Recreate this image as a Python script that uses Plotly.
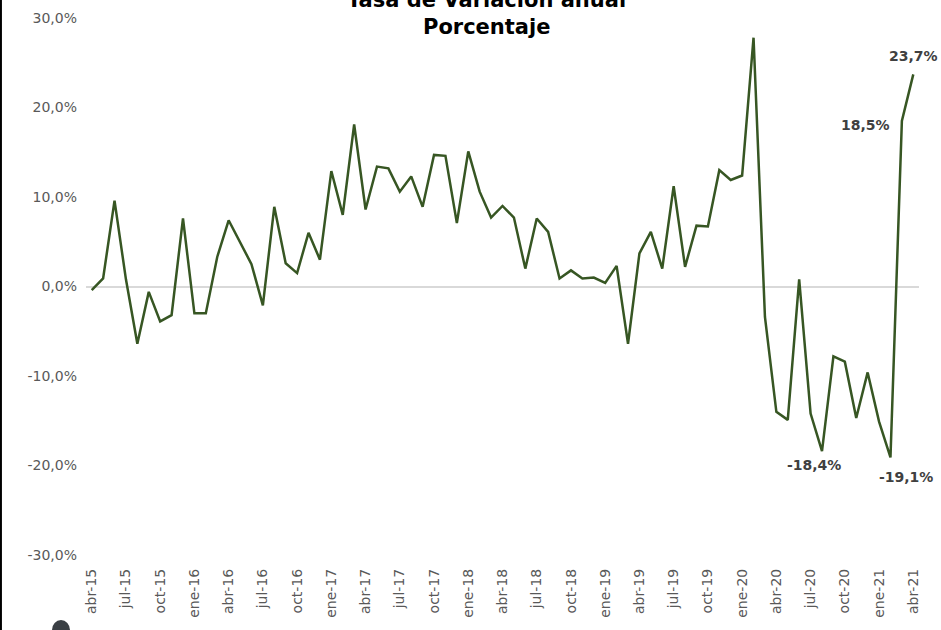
import plotly.graph_objects as go

months = ["ene", "feb", "mar", "abr", "may", "jun", "jul", "ago", "sep", "oct", "nov", "dic"]
# monthly categories abr-15 .. abr-21
categories = []
for yr in range(2015, 2022):
    for mi, m in enumerate(months):
        if (yr == 2015 and mi < 3) or (yr == 2021 and mi > 3):
            continue
        categories.append(f"{m}-{str(yr)[2:]}")

values = [
    -0.4, 0.9, 9.6, 0.8, -6.4, -0.6, -3.9, -3.2, 7.6, -3.0, -3.0, 3.3,
    7.4, 4.9, 2.5, -2.1, 8.9, 2.6, 1.5, 6.0, 3.0, 12.9, 8.0, 18.1,
    8.6, 13.4, 13.2, 10.6, 12.3, 8.9, 14.7, 14.6, 7.1, 15.1, 10.6, 7.7,
    9.0, 7.7, 2.0, 7.6, 6.1, 0.9, 1.8, 0.9, 1.0, 0.4, 2.3, -6.4,
    3.7, 6.1, 2.0, 11.2, 2.2, 6.8, 6.7, 13.0, 11.9, 12.4, 27.8, -3.4,
    -14.0, -14.9, 0.8, -14.2, -18.4, -7.8, -8.4, -14.7, -9.6, -15.1, -19.1, 18.5,
    23.7,
]

tick_labels = categories[::3]
tick_positions = list(range(0, len(categories), 3))

y_tick_values = [-30, -20, -10, 0, 10, 20, 30]
y_tick_labels = ["-30,0%", "-20,0%", "-10,0%", "0,0%", "10,0%", "20,0%", "30,0%"]

# labelled points: (index, text, xanchor, yanchor, xshift, yshift)
label_points = [
    (64, "-18,4%", "center", "top", -8, -4),
    (70, "-19,1%", "center", "top", 16, -10),
    (71, "18,5%", "right", "middle", -10, -4),
    (72, "23,7%", "center", "bottom", 0, 8),
]

FONT = "Century Gothic, URW Gothic, DejaVu Sans, sans-serif"

fig = go.Figure()
fig.add_trace(go.Scatter(
    x=list(range(len(values))), y=values, mode="lines",
    line=dict(color="#375623", width=2.5), hoverinfo="skip", showlegend=False,
))

annotations = []
for idx, txt, xa, ya, xs, ys in label_points:
    annotations.append(dict(
        x=idx, y=values[idx], xref="x", yref="y", text=f"<b>{txt}</b>",
        showarrow=False, xanchor=xa, yanchor=ya, xshift=xs, yshift=ys,
        font=dict(family=FONT, size=14, color="#404040"),
    ))
annotations.append(dict(
    x=0.481, y=1.033, xref="paper", yref="paper", text="<b>Tasa de Variación anual</b>",
    showarrow=False, xanchor="center", yanchor="middle",
    font=dict(family=FONT, size=21, color="#000000"),
))
annotations.append(dict(
    x=0.481, y=0.983, xref="paper", yref="paper", text="<b>Porcentaje</b>",
    showarrow=False, xanchor="center", yanchor="middle",
    font=dict(family=FONT, size=21, color="#000000"),
))

fig.update_layout(
    width=941, height=630,
    margin=dict(l=86, r=22, t=18, b=75, autoexpand=False),
    paper_bgcolor="white", plot_bgcolor="white",
    font=dict(family=FONT, color="#595959", size=14),
    annotations=annotations,
    shapes=[
        dict(type="line", xref="paper", yref="paper", x0=(1 - 86) / 832.4, x1=(1 - 86) / 832.4,
             y0=-0.2, y1=1.1, line=dict(color="#000000", width=2)),
        dict(type="circle", xref="paper", yref="paper",
             x0=(52 - 86) / 832.4, x1=(70 - 86) / 832.4,
             y0=(555 - 640) / 537, y1=(555 - 620) / 537,
             fillcolor="#3a3f44", line=dict(width=0)),
    ],
)
fig.update_xaxes(
    range=[-0.5, len(values) - 0.5], tickmode="array",
    tickvals=tick_positions, ticktext=tick_labels, tickangle=-90,
    showgrid=False, zeroline=False, showline=False, ticks="",
    ticklabelstandoff=10,
    automargin=False, tickfont=dict(size=14, color="#595959"),
)
fig.update_yaxes(
    range=[-30, 30], tickmode="array", tickvals=y_tick_values, ticktext=y_tick_labels,
    showgrid=False, zeroline=True, zerolinecolor="#D9D9D9", zerolinewidth=1.5,
    showline=False, ticks="", automargin=False, ticklabelstandoff=8,
    tickfont=dict(size=14, color="#595959"),
)

fig.write_html(
    "out.html",
    config={"displayModeBar": False},
    post_script="document.body.style.margin='0';document.body.style.padding='0';",
)
